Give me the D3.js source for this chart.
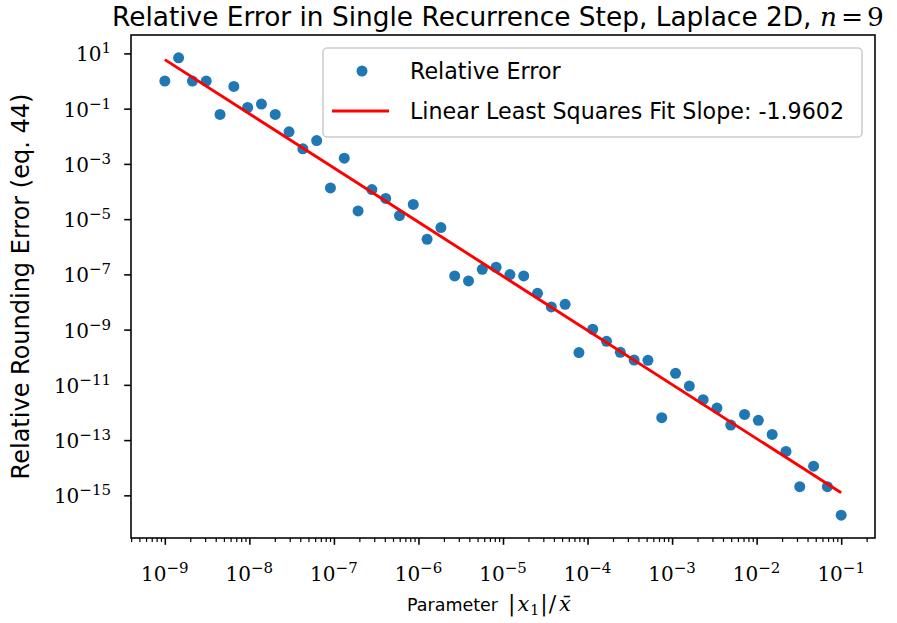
<!DOCTYPE html>
<html>
<head>
<meta charset="utf-8">
<script src="https://cdn.jsdelivr.net/npm/d3@7"></script>
<style>
  html, body { margin: 0; padding: 0; background: #fff; }
  svg { display: block; }
  .sans { font-family: "DejaVu Sans", sans-serif; }
  .serif { font-family: "DejaVu Serif", "Liberation Serif", serif; }
</style>
</head>
<body>
<svg id="chart" width="897" height="623"></svg>
<script>
// Parameter |x1|/x̄ values (50 log-spaced samples)
const params = [
  1.000e-9, 1.456e-9, 2.121e-9, 3.089e-9, 4.498e-9, 6.551e-9, 9.541e-9,
  1.389e-8, 2.024e-8, 2.947e-8, 4.292e-8, 6.251e-8, 9.103e-8,
  1.326e-7, 1.931e-7, 2.812e-7, 4.095e-7, 5.964e-7, 8.685e-7,
  1.265e-6, 1.842e-6, 2.683e-6, 3.907e-6, 5.690e-6, 8.286e-6,
  1.207e-5, 1.758e-5, 2.560e-5, 3.728e-5, 5.429e-5, 7.906e-5,
  1.151e-4, 1.677e-4, 2.442e-4, 3.556e-4, 5.179e-4, 7.543e-4,
  1.099e-3, 1.600e-3, 2.330e-3, 3.393e-3, 4.942e-3, 7.197e-3,
  1.048e-2, 1.526e-2, 2.223e-2, 3.237e-2, 4.715e-2, 6.866e-2,
  1.000e-1
];

// Relative rounding error (eq. 44) at each parameter value
const relErrors = [
  1.0, 6.9, 1.0, 1.0, 6.2e-2, 0.64, 0.11, 0.146, 6.2e-2, 1.45e-2,
  3.5e-3, 7.0e-3, 1.35e-4, 1.61e-3, 1.98e-5, 1.18e-4, 5.6e-5, 1.35e-5, 3.4e-5, 1.87e-6,
  4.97e-6, 8.75e-8, 5.77e-8, 1.53e-7, 1.81e-7, 9.8e-8, 8.75e-8, 2.07e-8, 6.6e-9, 8.26e-9,
  1.47e-10, 1.03e-9, 3.77e-10, 1.51e-10, 7.9e-11, 7.7e-11, 6.5e-13, 2.61e-11, 9.06e-12, 2.91e-12,
  1.45e-12, 3.49e-13, 8.5e-13, 5.2e-13, 1.61e-13, 3.9e-14, 2.05e-15, 1.14e-14, 2.05e-15, 1.92e-16
];

// Slope of the least-squares fit in log-log space
const fitSlope = -1.9602;

const xTickExps = [-9, -8, -7, -6, -5, -4, -3, -2, -1];
const yTickExps = [1, -1, -3, -5, -7, -9, -11, -13, -15];

const svg = d3.select("#chart");
const plot = { left: 131, right: 875, top: 35, bottom: 538 };

// Log-space extent with 5% margin on each side
function paddedLogDomain(vals) {
  const lo = Math.log10(d3.min(vals)), hi = Math.log10(d3.max(vals));
  const pad = (hi - lo) * 0.05;
  return [Math.pow(10, lo - pad), Math.pow(10, hi + pad)];
}

const x = d3.scaleLog().domain(paddedLogDomain(params)).range([plot.left, plot.right]);
const y = d3.scaleLog().domain(paddedLogDomain(relErrors)).range([plot.bottom, plot.top]);

// Fit line through the mean point with the stated slope
const lx = params.map(Math.log10), ly = relErrors.map(Math.log10);
const fitIntercept = d3.mean(ly) - fitSlope * d3.mean(lx);
const fitY = v => Math.pow(10, fitIntercept + fitSlope * Math.log10(v));

// Scatter points
svg.append("g").selectAll("circle")
  .data(params.map((p, i) => [p, relErrors[i]]))
  .join("circle")
  .attr("cx", d => x(d[0]))
  .attr("cy", d => y(d[1]))
  .attr("r", 5.5)
  .attr("fill", "#1f77b4");

// Fit line
const fitEnds = [d3.min(params), d3.max(params)];
svg.append("path")
  .attr("d", d3.line().x(d => x(d)).y(d => y(fitY(d)))(fitEnds))
  .attr("stroke", "#ff0000")
  .attr("stroke-width", 2.9)
  .attr("fill", "none");

// X axis: major ticks each decade, minor ticks at 2..9
const xMinor = [];
const [xd0, xd1] = x.domain();
for (let e = -10; e <= 0; e++) {
  for (let m = 2; m <= 9; m++) {
    const v = m * Math.pow(10, e);
    if (v >= xd0 && v <= xd1) xMinor.push(v);
  }
}
const xAxisMinor = d3.axisBottom(x).tickValues(xMinor).tickSize(3.9).tickFormat("");
const xAxisMajor = d3.axisBottom(x).tickValues(xTickExps.map(e => Math.pow(10, e))).tickSize(6.8).tickFormat("");
const gxm = svg.append("g").attr("transform", `translate(0,${plot.bottom})`).call(xAxisMinor);
gxm.selectAll("line").attr("stroke-width", 1.2).attr("stroke", "#000");
const gx = svg.append("g").attr("transform", `translate(0,${plot.bottom})`).call(xAxisMajor);
gx.selectAll("line").attr("stroke-width", 1.56).attr("stroke", "#000");
svg.selectAll(".domain").remove();

// Power-of-ten label: "10" with a raised exponent
function powerLabel(sel, e) {
  sel.append("tspan").text("10");
  sel.append("tspan").attr("dy", -8).attr("font-size", 15)
    .text(e < 0 ? "\u2212" + Math.abs(e) : String(e));
}

xTickExps.forEach(e => {
  const t = svg.append("text").attr("class", "serif")
    .attr("x", x(Math.pow(10, e)))
    .attr("y", 581)
    .attr("text-anchor", "middle")
    .attr("font-size", 20);
  powerLabel(t, e);
});

// Y axis: major ticks every other decade
const yAxis = d3.axisLeft(y).tickValues(yTickExps.map(e => Math.pow(10, e))).tickSize(6.8).tickFormat("");
const gy = svg.append("g").attr("transform", `translate(${plot.left},0)`).call(yAxis);
gy.selectAll("line").attr("stroke-width", 1.56).attr("stroke", "#000");
gy.select(".domain").remove();

yTickExps.forEach(e => {
  const t = svg.append("text").attr("class", "serif")
    .attr("x", 111)
    .attr("y", y(Math.pow(10, e)) + 8)
    .attr("text-anchor", "end")
    .attr("font-size", 20);
  powerLabel(t, e);
});

// Axes frame
svg.append("rect")
  .attr("x", plot.left).attr("y", plot.top)
  .attr("width", plot.right - plot.left).attr("height", plot.bottom - plot.top)
  .attr("fill", "none").attr("stroke", "#000").attr("stroke-width", 1.56);

// Title
const title = svg.append("text").attr("class", "sans")
  .attr("x", 112).attr("y", 26)
  .attr("font-size", 26.4);
title.append("tspan").text("Relative Error in Single Recurrence Step, Laplace 2D, ");
title.append("tspan").attr("class", "serif").attr("font-style", "italic").text("n");
title.append("tspan").attr("class", "serif").attr("dx", 4).text("=");
title.append("tspan").attr("class", "serif").attr("dx", 4).text("9");

// X axis label
const xl = svg.append("text").attr("class", "sans")
  .attr("x", 407).attr("y", 611)
  .attr("font-size", 17.5);
xl.append("tspan").text("Parameter");
xl.append("tspan").attr("class", "serif").attr("font-size", 22).attr("dx", 10).text("|");
xl.append("tspan").attr("class", "serif").attr("font-style", "italic").attr("font-size", 21).attr("dx", 2).text("x");
xl.append("tspan").attr("class", "serif").attr("font-size", 14).attr("dy", 4).attr("dx", 1).text("1");
xl.append("tspan").attr("class", "serif").attr("font-size", 22).attr("dy", -4).attr("dx", 1).text("|");
xl.append("tspan").attr("class", "serif").attr("font-size", 22).attr("dx", 1).text("/");
xl.append("tspan").attr("class", "serif").attr("font-style", "italic").attr("font-size", 21).attr("dx", 3).text("x\u0304");

// Y axis label
svg.append("text").attr("class", "sans")
  .attr("transform", `translate(29,${(plot.top + plot.bottom) / 2}) rotate(-90)`)
  .attr("text-anchor", "middle").attr("font-size", 24)
  .text("Relative Rounding Error (eq. 44)");

// Legend
const lg = svg.append("g");
lg.append("rect")
  .attr("x", 323).attr("y", 48).attr("width", 539).attr("height", 89).attr("rx", 4)
  .attr("fill", "#fff").attr("fill-opacity", 0.8)
  .attr("stroke", "#cccccc").attr("stroke-width", 1.5);
lg.append("circle").attr("cx", 362).attr("cy", 71).attr("r", 5.5).attr("fill", "#1f77b4");
lg.append("line").attr("x1", 332).attr("x2", 389).attr("y1", 111).attr("y2", 111)
  .attr("stroke", "#ff0000").attr("stroke-width", 2.9);
lg.append("text").attr("class", "sans").attr("x", 410).attr("y", 79).attr("font-size", 22.2)
  .text("Relative Error");
lg.append("text").attr("class", "sans").attr("x", 410).attr("y", 119).attr("font-size", 22.2)
  .text("Linear Least Squares Fit Slope: " + fitSlope.toFixed(4));
</script>
</body>
</html>
